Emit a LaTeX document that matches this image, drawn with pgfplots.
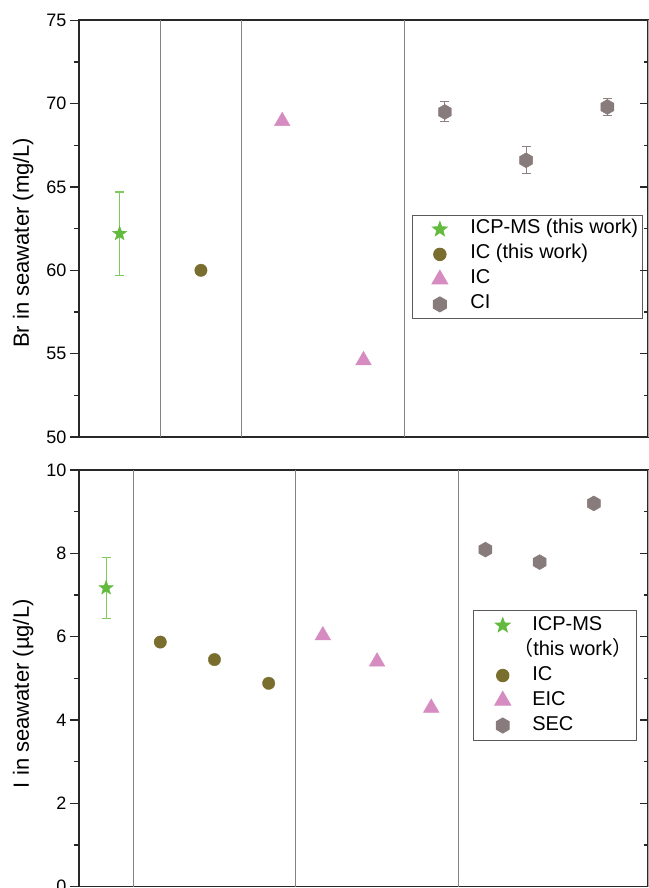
\documentclass[border=0pt]{standalone}
\usepackage{pgfplots}
\pgfplotsset{compat=1.18}
\usepackage{fontspec}
\setmainfont{Liberation Sans}
\newfontfamily\cjk{Noto Sans CJK SC}

\definecolor{starc}{RGB}{98,186,62}
\definecolor{starerr}{RGB}{128,200,96}
\definecolor{olivec}{RGB}{122,110,46}
\definecolor{pinkc}{RGB}{214,140,192}
\definecolor{hexc}{RGB}{136,123,123}
\definecolor{hexerr}{RGB}{140,128,128}
\definecolor{sepc}{RGB}{135,130,130}
\definecolor{axisc}{RGB}{40,40,40}
\definecolor{legc}{RGB}{90,90,90}

\pgfdeclareplotmark{hexagon*}{%
  \pgfpathmoveto{\pgfpointpolar{90}{\pgfplotmarksize}}%
  \pgfpathlineto{\pgfpointpolar{150}{\pgfplotmarksize}}%
  \pgfpathlineto{\pgfpointpolar{210}{\pgfplotmarksize}}%
  \pgfpathlineto{\pgfpointpolar{270}{\pgfplotmarksize}}%
  \pgfpathlineto{\pgfpointpolar{330}{\pgfplotmarksize}}%
  \pgfpathlineto{\pgfpointpolar{30}{\pgfplotmarksize}}%
  \pgfpathclose
  \pgfusepathqfillstroke}
\pgfdeclareplotmark{fstar}{%
  \pgfpathmoveto{\pgfpointpolar{90}{\pgfplotmarksize}}%
  \pgfpathlineto{\pgfpointpolar{126}{0.42\pgfplotmarksize}}%
  \pgfpathlineto{\pgfpointpolar{162}{\pgfplotmarksize}}%
  \pgfpathlineto{\pgfpointpolar{198}{0.42\pgfplotmarksize}}%
  \pgfpathlineto{\pgfpointpolar{234}{\pgfplotmarksize}}%
  \pgfpathlineto{\pgfpointpolar{270}{0.42\pgfplotmarksize}}%
  \pgfpathlineto{\pgfpointpolar{306}{\pgfplotmarksize}}%
  \pgfpathlineto{\pgfpointpolar{342}{0.42\pgfplotmarksize}}%
  \pgfpathlineto{\pgfpointpolar{18}{\pgfplotmarksize}}%
  \pgfpathlineto{\pgfpointpolar{54}{0.42\pgfplotmarksize}}%
  \pgfpathclose
  \pgfusepathqfillstroke}

\pgfplotsset{
  base/.style={
    scale only axis, width=569pt,
    xtick=\empty,
    minor y tick num=1,
    ytick pos=left, tick align=outside,
    major tick length=9pt, minor tick length=5pt,
    axis line style={line width=1.6pt, color=axisc},
    every tick/.style={line width=1.4pt, color=axisc},
    ticklabel style={font=\fontsize{18}{21}\selectfont},
    /pgf/number format/assume math mode=true,
    ylabel style={font=\fontsize{22}{26}\selectfont, anchor=center},
    legend cell align=left,
    legend style={font=\fontsize{20}{24}\selectfont, draw=legc, line width=1pt,
      inner xsep=4pt, row sep=0pt,
      nodes={inner sep=0pt, text height=17pt, text depth=8pt}},
    legend image code/.code={\path (-23pt,0pt) (23pt,0pt);
      \draw[##1] plot coordinates {(0pt,0pt)};},
    clip=false,
  },
  rightticks/.style={
    scale only axis, width=569pt,
    hide x axis, axis y line*=right,
    tick align=inside,
    minor y tick num=1, yticklabels={},
    major tick length=8pt, minor tick length=4pt,
    axis line style={line width=1pt, color=axisc!40},
    every tick/.style={line width=1.4pt, color=axisc},
  },
}

\begin{document}
\begin{tikzpicture}
% ---------------- top panel ----------------
\begin{axis}[base, at={(79pt,451pt)}, anchor=south west, height=416.7pt,
  xmin=0.5, xmax=7.5, ymin=50, ymax=75, ytick={50,55,...,75},
  ylabel={Br in seawater (mg/L)},
  ylabel style={at={(axis description cs:-0.098,0.466)}},
  legend style={at={(axis description cs:0.585,0.533)}, anchor=north west,
    inner ysep=1.5pt, column sep=7pt}]
\addplot[sepc, line width=1.2pt, forget plot] coordinates {(1.5,50) (1.5,75)};
\addplot[sepc, line width=1.2pt, forget plot] coordinates {(2.5,50) (2.5,75)};
\addplot[sepc, line width=1.2pt, forget plot] coordinates {(4.5,50) (4.5,75)};
\addplot[only marks, mark=fstar, mark size=7.5pt, color=starc,
  error bars/.cd, y dir=both, y explicit,
  error bar style={draw=starerr, line width=1.1pt},
  error mark options={draw=starerr, line width=1.1pt, mark size=4.5pt, rotate=90}]
  coordinates {(1,62.2) +- (0,2.5)};
\addlegendentry{ICP-MS (this work)}
\addplot[only marks, mark=*, mark size=6.2pt, color=olivec]
  coordinates {(2,60.0)};
\addlegendentry{IC (this work)}
\addplot[only marks, mark=triangle*, mark size=9pt, color=pinkc]
  coordinates {(3,68.95) (4,54.6)};
\addlegendentry{IC}
\addplot[only marks, mark=hexagon*, mark size=7.5pt, color=hexc,
  error bars/.cd, y dir=both, y explicit,
  error bar style={draw=hexerr, line width=1pt},
  error mark options={draw=hexerr, line width=1pt, mark size=4.5pt, rotate=90}]
  coordinates {(5,69.5) +- (0,0.6) (6,66.6) +- (0,0.8) (7,69.8) +- (0,0.5)};
\addlegendentry{CI}
\end{axis}
\begin{axis}[rightticks, at={(79pt,451pt)}, anchor=south west, height=416.7pt,
  xmin=0.5, xmax=7.5, ymin=50, ymax=75, ytick={50,55,...,75}]
\end{axis}
% ---------------- bottom panel ----------------
\begin{axis}[base, at={(79pt,1.5pt)}, anchor=south west, height=416.4pt,
  xmin=0.5, xmax=11, ymin=0, ymax=10, ytick={0,2,...,10},
  ylabel={I in seawater (µg/L)},
  ylabel style={at={(axis description cs:-0.098,0.463)}},
  legend style={at={(axis description cs:0.692,0.664)}, anchor=north west,
    inner ysep=2.5pt, column sep=4pt},
  legend image code/.code={\path (-25pt,0pt) (25pt,0pt);
      \draw[#1] plot coordinates {(0pt,0pt)};}]
\addplot[sepc, line width=1.2pt, forget plot] coordinates {(1.5,0) (1.5,10)};
\addplot[sepc, line width=1.2pt, forget plot] coordinates {(4.5,0) (4.5,10)};
\addplot[sepc, line width=1.2pt, forget plot] coordinates {(7.5,0) (7.5,10)};
\addplot[only marks, mark=fstar, mark size=7.5pt, color=starc,
  error bars/.cd, y dir=both, y explicit,
  error bar style={draw=starerr, line width=1.1pt},
  error mark options={draw=starerr, line width=1.1pt, mark size=4.5pt, rotate=90}]
  coordinates {(1,7.17) +- (0,0.73)};
\addlegendentry{ICP-MS}
\addlegendimage{empty legend}
\addlegendentry{\hspace*{-19pt}{\cjk （}this work{\cjk ）}}
\addplot[only marks, mark=*, mark size=6.2pt, color=olivec]
  coordinates {(2,5.87) (3,5.45) (4,4.88)};
\addlegendentry{IC}
\addplot[only marks, mark=triangle*, mark size=9pt, color=pinkc]
  coordinates {(5,6.03) (6,5.40) (7,4.29)};
\addlegendentry{EIC}
\addplot[only marks, mark=hexagon*, mark size=7.5pt, color=hexc]
  coordinates {(8,8.09) (9,7.79) (10,9.20)};
\addlegendentry{SEC}
\end{axis}
\begin{axis}[rightticks, at={(79pt,1.5pt)}, anchor=south west, height=416.4pt,
  xmin=0.5, xmax=11, ymin=0, ymax=10, ytick={0,2,...,10}]
\end{axis}
\pgfresetboundingbox
\useasboundingbox (0pt,0pt) rectangle (648pt,888pt);
\end{tikzpicture}
\end{document}
